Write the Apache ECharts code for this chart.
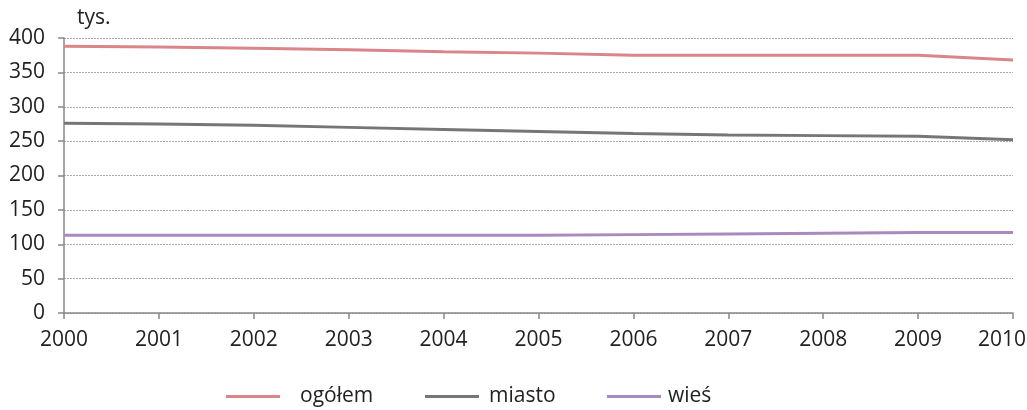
<!DOCTYPE html>
<html><head><meta charset="utf-8">
<script src="https://cdn.jsdelivr.net/npm/echarts@6/dist/echarts.min.js"></script>
<style>html,body{margin:0;padding:0;background:#fff}#c{width:1027px;height:410px}</style>
</head><body><div id="c"></div>
<script>
const years = ['2000','2001','2002','2003','2004','2005','2006','2007','2008','2009','2010'];
const ogolem = [388, 387, 385, 383, 380, 378, 375, 375, 375, 375, 368];
const miasto = [276, 275, 273, 270, 267, 264, 261, 259, 258, 257, 252];
const wies = [113, 113, 113, 113, 113, 113, 114, 115, 116, 117, 117];
const yTicks = [0, 50, 100, 150, 200, 250, 300, 350, 400];
const names = ['ogółem', 'miasto', 'wieś'];
const colors = ['#d9858a', '#767676', '#a98abf'];

const font = '"Open Sans", "Noto Sans", sans-serif';
const FS = 21;
const chart = echarts.init(document.getElementById('c'), null, {renderer: 'canvas'});
const mkLegend = (i, left, gap) => ({
  data: [names[i]], left: left, top: 381, icon: 'rect', itemWidth: 54, itemHeight: 3,
  itemGap: 0, textStyle: {fontFamily: font, fontSize: FS, color: '#222', padding: [0, 0, 0, gap]},
  selectedMode: false
});
chart.setOption({
  animation: false,
  title: {text: 'tys.', left: 72, top: 3, textStyle: {fontFamily: font, fontSize: FS, fontWeight: 'normal', color: '#222'}},
  grid: {left: 64, right: 14, top: 38, bottom: 97, outerBoundsMode: 'none', containLabel: false},
  legend: [mkLegend(0, 221, 15), mkLegend(1, 420, 5), mkLegend(2, 602, 2)],
  xAxis: {
    type: 'category', data: years, boundaryGap: false,
    axisLine: {lineStyle: {color: '#888', width: 1.5}},
    axisTick: {show: true, interval: 0, length: 6, lineStyle: {color: '#888', width: 1.5}},
    axisLabel: {
      interval: 0, hideOverlap: false,
      fontFamily: font, fontSize: FS, color: '#222', margin: 17,
      formatter: (v, idx) => idx === years.length - 1 ? '{last|' + v + '}' : v,
      rich: {last: {fontFamily: font, fontSize: FS, color: '#222', width: 70, align: 'left'}}
    }
  },
  yAxis: {
    type: 'value', min: yTicks[0], max: yTicks[yTicks.length - 1], interval: 50,
    axisLine: {show: true, lineStyle: {color: '#888', width: 1.5}},
    axisTick: {show: true, length: 6, lineStyle: {color: '#888', width: 1.5}},
    axisLabel: {fontFamily: font, fontSize: FS, color: '#222', margin: 19},
    splitLine: {lineStyle: {color: '#aaa', type: [2, 1], width: 1}}
  },
  series: [ogolem, miasto, wies].map((d, i) => ({
    name: names[i], type: 'line', data: d, showSymbol: false, symbol: 'none',
    lineStyle: {color: colors[i], width: 3}, itemStyle: {color: colors[i]}
  }))
});
</script></body></html>
